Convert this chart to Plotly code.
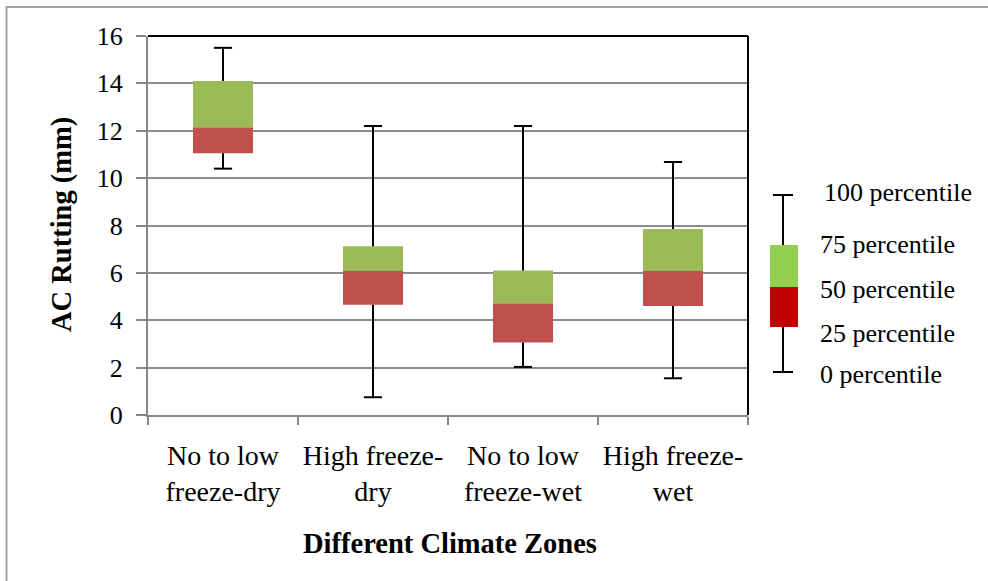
import plotly.graph_objects as go

categories = ["No to low<br>freeze-dry", "High freeze-<br>dry", "No to low<br>freeze-wet", "High freeze-<br>wet"]
p0 = [10.4, 0.75, 2.03, 1.55]
p25 = [11.05, 4.65, 3.06, 4.6]
p50 = [12.15, 6.08, 4.72, 6.08]
p75 = [14.1, 7.12, 6.1, 7.85]
p100 = [15.5, 12.2, 12.2, 10.68]

legend_labels = ["100 percentile", "75 percentile", "50 percentile", "25 percentile", "0 percentile"]

FONT = "Liberation Serif"
L, R, T, B = 148, 748, 36, 415
W, H = 988, 581

def px(x):
    return (x - L) / (R - L)

def py(y):
    return (B - y) / (B - T)

fig = go.Figure()

fig.add_trace(go.Bar(x=categories, y=[m - a for m, a in zip(p50, p25)], base=p25,
                     marker=dict(color="#C0504D", line=dict(width=0)), width=0.4, showlegend=False))
fig.add_trace(go.Bar(x=categories, y=[b - m for m, b in zip(p50, p75)], base=p50,
                     marker=dict(color="#9BBB59", line=dict(width=0)), width=0.4, showlegend=False))

wx, wy = [], []
for c, a, b, c3, d in zip(categories, p0, p25, p75, p100):
    wx += [c, c, None, c, c, None]
    wy += [c3, d, None, a, b, None]
fig.add_trace(go.Scatter(x=wx, y=wy, mode="lines", line=dict(color="black", width=2),
                         showlegend=False, hoverinfo="skip"))
fig.add_trace(go.Scatter(x=categories + categories, y=p100 + p0, mode="markers",
                         marker=dict(symbol="line-ew-open", size=13, color="black",
                                     line=dict(color="black", width=2)),
                         showlegend=False, hoverinfo="skip"))

shapes = []
shapes.append(dict(type="line", xref="paper", yref="paper", x0=0, x1=1, y0=1, y1=1,
                   line=dict(color="black", width=2)))
shapes.append(dict(type="line", xref="paper", yref="paper", x0=1, x1=1, y0=0, y1=1,
                   line=dict(color="black", width=2)))
shapes.append(dict(type="line", xref="paper", yref="paper", x0=px(6), x1=px(988), y0=py(7), y1=py(7),
                   line=dict(color="#A0A0A0", width=2)))
shapes.append(dict(type="line", xref="paper", yref="paper", x0=px(6.5), x1=px(6.5), y0=py(6), y1=py(581),
                   line=dict(color="#A0A0A0", width=2)))
shapes.append(dict(type="rect", xref="paper", yref="paper", x0=px(770), x1=px(798), y0=py(287), y1=py(245),
                   fillcolor="#92D050", line=dict(width=0)))
shapes.append(dict(type="rect", xref="paper", yref="paper", x0=px(770), x1=px(798), y0=py(327), y1=py(287),
                   fillcolor="#C00000", line=dict(width=0)))
for y0, y1 in [(195, 245), (327, 372)]:
    shapes.append(dict(type="line", xref="paper", yref="paper", x0=px(783), x1=px(783), y0=py(y0), y1=py(y1),
                       line=dict(color="black", width=2)))
for yy in [195, 372]:
    shapes.append(dict(type="line", xref="paper", yref="paper", x0=px(773), x1=px(793), y0=py(yy), y1=py(yy),
                       line=dict(color="black", width=2)))

annotations = []
leg_pos = [(822, 193), (818, 244), (818, 289), (818, 333), (818, 374)]
for t, (xx, yy) in zip(legend_labels, leg_pos):
    annotations.append(dict(text=t, xref="paper", yref="paper", x=px(xx), y=py(yy), xanchor="left",
                            yanchor="middle", showarrow=False, font=dict(family=FONT, size=26, color="black")))
annotations.append(dict(text="<b>Different Climate Zones</b>", xref="paper", yref="paper", x=px(450), y=py(543),
                        xanchor="center", yanchor="middle", showarrow=False,
                        font=dict(family=FONT, size=28.5, color="black")))
annotations.append(dict(text="<b>AC Rutting (mm)</b>", xref="paper", yref="paper", x=px(62), y=py(225),
                        xanchor="center", yanchor="middle", textangle=-90, showarrow=False,
                        font=dict(family=FONT, size=28.5, color="black")))

fig.update_layout(
    width=W, height=H,
    margin=dict(l=L, r=W - R, t=T, b=H - B),
    paper_bgcolor="white", plot_bgcolor="white",
    barmode="overlay", bargap=0.6,
    shapes=shapes, annotations=annotations,
    font=dict(family=FONT, color="black"),
    showlegend=False,
)
fig.update_xaxes(type="category", tickson="boundaries", ticks="outside", ticklen=8, tickwidth=2,
                 tickcolor="#868686", showline=True, linecolor="#868686", linewidth=2,
                 showgrid=False, tickfont=dict(family=FONT, size=28, color="black"),
                 tickangle=0, ticklabelstandoff=14)
fig.update_yaxes(range=[0, 16], dtick=2, ticks="outside", ticklen=10, tickwidth=2, tickcolor="#868686",
                 showline=True, linecolor="#868686", linewidth=2, showgrid=True, gridcolor="#8C8C8C",
                 gridwidth=2, zeroline=False, tickfont=dict(family=FONT, size=26, color="black"),
                 ticklabelstandoff=8)

fig.write_html("out.html")
